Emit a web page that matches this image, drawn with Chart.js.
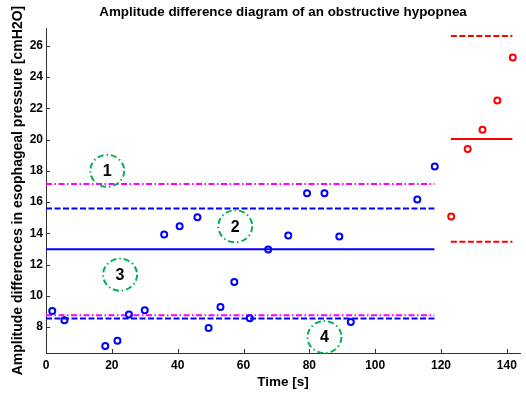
<!DOCTYPE html>
<html>
<head>
<meta charset="utf-8">
<script src="https://cdn.jsdelivr.net/npm/chart.js@4/dist/chart.umd.min.js"></script>
<style>
html, body { margin: 0; padding: 0; background: #fff; }
</style>
</head>
<body>
<canvas id="chart" width="526" height="394"></canvas>
<script>
// valeurs
const blueTime = [1.9, 5.6, 18.0, 21.7, 25.2, 30.0, 35.9, 40.6, 46.0, 49.4, 53.0, 57.2, 61.9, 67.5, 73.6, 79.3, 84.6, 89.1, 92.6, 112.8, 118.1];
const blueAmp = [9.02, 8.43, 6.79, 7.13, 8.81, 9.07, 13.92, 14.45, 15.03, 7.94, 9.28, 10.88, 8.56, 12.96, 13.86, 16.56, 16.56, 13.8, 8.32, 16.16, 18.27];
const redTime = [123.1, 128.1, 132.6, 137.1, 141.8];
const redAmp = [15.07, 19.4, 20.63, 22.49, 25.25];

const blueSpan = [0, 118];
const blueLevels = [12.98, 15.58, 8.54];     // moyenne, limite haute, limite basse
const magentaLevels = [17.16, 8.75];
const redSpan = [123, 141.7];
const redLevels = [20.04, 26.62, 13.46];

const markerText = ['1', '2', '3', '4'];
const markerTime = [18.6, 57.5, 22.5, 84.6];
const markerAmp = [18.0, 14.45, 11.35, 7.36];

const xTicks = [0, 20, 40, 60, 80, 100, 120, 140];
const yTicks = [8, 10, 12, 14, 16, 18, 20, 22, 24, 26];

const FONT = '"Liberation Sans", Arial, sans-serif';

function pts(xs, ys) {
    return xs.map(function (x, i) { return { x: x, y: ys[i] }; });
}
function hline(span, y, color, dash) {
    return {
        type: 'line',
        data: [{ x: span[0], y: y }, { x: span[1], y: y }],
        borderColor: color,
        borderWidth: 2,
        borderDash: dash,
        pointRadius: 0,
        fill: false,
        order: 2
    };
}

const dashed = [6, 2.5];
const dashDot = [6, 2.5, 1.5, 2.5];

// cercles verts numérotés + graduations intérieures façon matlab
const extras = {
    id: 'extras',
    afterDraw: function (chart) {
        const ctx = chart.ctx;
        const xs = chart.scales.x, ys = chart.scales.y;
        ctx.save();
        ctx.strokeStyle = '#333';
        ctx.lineWidth = 1;
        xTicks.forEach(function (v) {
            const px = Math.round(xs.getPixelForValue(v)) + 0.5;
            ctx.beginPath();
            ctx.moveTo(px, ys.bottom);
            ctx.lineTo(px, ys.bottom - 4);
            ctx.stroke();
        });
        yTicks.forEach(function (v) {
            const py = Math.round(ys.getPixelForValue(v)) + 0.5;
            ctx.beginPath();
            ctx.moveTo(xs.left, py);
            ctx.lineTo(xs.left + 4, py);
            ctx.stroke();
        });
        markerText.forEach(function (t, i) {
            const px = xs.getPixelForValue(markerTime[i]);
            const py = ys.getPixelForValue(markerAmp[i]);
            ctx.strokeStyle = '#00b050';
            ctx.lineWidth = 2;
            ctx.setLineDash([6, 3, 1.5, 3]);
            ctx.beginPath();
            ctx.ellipse(px, py, 17, 16, 0, 0, Math.PI * 2);
            ctx.stroke();
            ctx.setLineDash([]);
            ctx.fillStyle = '#000';
            ctx.font = 'bold 16px ' + FONT;
            ctx.textAlign = 'center';
            ctx.textBaseline = 'middle';
            ctx.fillText(t, px, py + 1);
        });
        ctx.restore();
    }
};

const ctx = document.getElementById('chart').getContext('2d');
const chart = new Chart(ctx, {
    type: 'scatter',
    data: {
        datasets: [
            hline(blueSpan, blueLevels[0], '#0000ff', []),
            hline(blueSpan, blueLevels[1], '#0000ff', dashed),
            hline(blueSpan, blueLevels[2], '#0000ff', dashed),
            hline(blueSpan, magentaLevels[0], '#ff00ff', dashDot),
            hline(blueSpan, magentaLevels[1], '#ff00ff', dashDot),
            hline(redSpan, redLevels[0], '#ff0000', []),
            hline(redSpan, redLevels[1], '#ff0000', dashed),
            hline(redSpan, redLevels[2], '#ff0000', dashed),
            {
                data: pts(blueTime, blueAmp),
                pointStyle: 'circle',
                pointRadius: 3,
                pointBorderWidth: 2,
                borderColor: '#0000ff',
                backgroundColor: 'rgba(0,0,0,0)',
                order: 1
            },
            {
                data: pts(redTime, redAmp),
                pointStyle: 'circle',
                pointRadius: 3,
                pointBorderWidth: 2,
                borderColor: '#ff0000',
                backgroundColor: 'rgba(0,0,0,0)',
                order: 1
            }
        ]
    },
    options: {
        responsive: false,
        animation: false,
        layout: { padding: 0 },
        scales: {
            x: {
                type: 'linear',
                min: 0,
                max: 144,
                afterBuildTicks: function (scale) {
                    scale.ticks = xTicks.map(function (v) { return { value: v }; });
                },
                afterFit: function (scale) { scale.height = 41; },
                grid: { drawOnChartArea: false, drawTicks: false },
                border: { display: true, color: '#333', width: 1 },
                ticks: {
                    color: '#000',
                    padding: 5,
                    maxRotation: 0,
                    font: { family: FONT, size: 12, weight: 'bold' }
                },
                title: {
                    display: true,
                    text: 'Time [s]',
                    color: '#000',
                    padding: { top: 0, bottom: 4 },
                    font: { family: FONT, size: 13.5, weight: 'bold' }
                }
            },
            y: {
                type: 'linear',
                min: 6.34,
                max: 27.13,
                afterBuildTicks: function (scale) {
                    scale.ticks = yTicks.map(function (v) { return { value: v }; });
                },
                afterFit: function (scale) { scale.width = 46; },
                grid: { drawOnChartArea: false, drawTicks: false },
                border: { display: true, color: '#333', width: 1 },
                ticks: {
                    color: '#000',
                    padding: 3,
                    font: { family: FONT, size: 12, weight: 'bold' }
                },
                title: {
                    display: true,
                    text: 'Amplitude differences in esophageal pressure [cmH2O]',
                    color: '#000',
                    padding: { top: 10, bottom: 0 },
                    font: { family: FONT, size: 14, weight: 'bold' }
                }
            }
        },
        plugins: {
            legend: { display: false },
            tooltip: { enabled: false },
            title: {
                display: true,
                fullSize: false,
                text: 'Amplitude difference diagram of an obstructive hypopnea',
                color: '#000',
                padding: { top: 4, bottom: 8 },
                font: { family: FONT, size: 13.4, weight: 'bold' }
            }
        }
    },
    plugins: [extras]
});
</script>
</body>
</html>
